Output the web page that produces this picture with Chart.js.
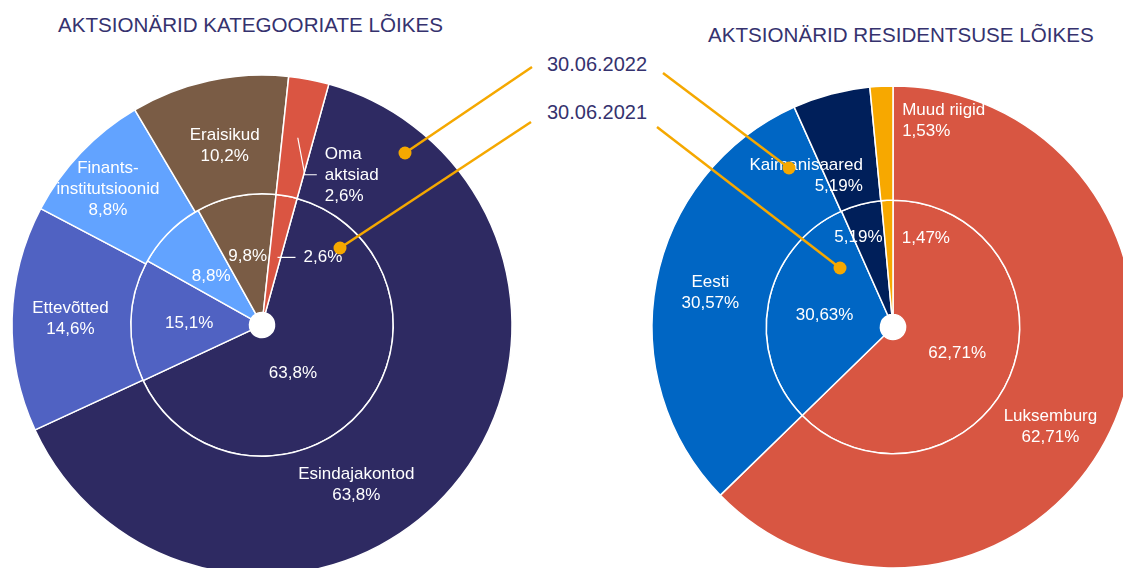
<!DOCTYPE html>
<html lang="et">
<head>
<meta charset="utf-8">
<title>Aktsionärid</title>
<script src="https://cdn.jsdelivr.net/npm/chart.js@4.4.0/dist/chart.umd.min.js"></script>
<style>
    html, body { margin: 0; padding: 0; width: 1123px; height: 568px; overflow: hidden; background: #fff; }
    .txt { position: absolute; font-family: "Liberation Sans", Arial, sans-serif; font-size: 20px; line-height: 20px; color: #35326e; white-space: nowrap; }
    .head { font-size: 20.6px; }
    canvas { position: absolute; }
</style>
</head>
<body>
<div class="txt head" style="left:58px;top:15px">AKTSIONÄRID KATEGOORIATE LÕIKES</div>
<div class="txt head" style="left:708px;top:25px">AKTSIONÄRID RESIDENTSUSE LÕIKES</div>
<div class="txt" id="period0" style="left:547px;top:54px"></div>
<div class="txt" id="period1" style="left:547px;top:102px"></div>

<canvas id="catChart" width="520" height="520" style="left:2px;top:65px"></canvas>
<canvas id="resChart" width="500" height="500" style="left:643px;top:77px"></canvas>
<canvas id="overlay" width="1123" height="568" style="left:0;top:0"></canvas>

<script>
// periods: outer ring = first, inner ring = second
const periods = ['30.06.2022', '30.06.2021'];

// shareholders by category, %
const catLabels = ['Esindajakontod', 'Ettevõtted', 'Finants-\ninstitutsioonid', 'Eraisikud', 'Oma\naktsiad'];
const cat2022 = [63.8, 14.6, 8.8, 10.2, 2.6];
const cat2021 = [63.8, 15.1, 8.8, 9.8, 2.6];
const catColors = ['#2e2a62', '#5062c2', '#62a3ff', '#7a5c45', '#da5542'];

// shareholders by residency, %
const resLabels = ['Luksemburg', 'Eesti', 'Kaimanisaared', 'Muud riigid'];
const res2022 = [62.71, 30.57, 5.19, 1.53];
const res2021 = [62.71, 30.63, 5.19, 1.47];
const resColors = ['#d85642', '#0066c4', '#001f5a', '#f7a800'];

const FONT = '17px "Liberation Sans", Arial, sans-serif';
const LINE_H = 21;
const ORANGE = '#f5a800';

document.getElementById('period0').textContent = periods[0];
document.getElementById('period1').textContent = periods[1];

const pct = (v, d) => v.toFixed(d).replace('.', ',') + '%';

// label placement relative to each arc's center point (outer ring, inner ring)
const catPlace = [
    [{ dx: -51, dy: 36 }, { dx: -1, dy: -1 }, { dx: -16, dy: -4 }, { dx: 3, dy: 7 },
     { dx: 27, dy: 38, align: 'left', leader: [[0, 0], [7, 37], [19, 37]] }],
    [{ dx: -24, dy: 2 }, { dx: -1, dy: 1 }, { dx: 0, dy: 2 }, { dx: 0, dy: 2 },
     { dx: 28, dy: 3, align: 'left', leader: [[2, 3], [20, 3]] }]
];
const resPlace = [
    [{ dx: -12, dy: 28 }, { dx: -2, dy: 0 }, { dx: 17, dy: 27, align: 'right' }, { dx: 18, dy: -23, align: 'left' }],
    [{ dx: 0, dy: -1 }, { dx: 0, dy: 1 }, { dx: -17, dy: -22 }, { dx: 12, dy: -19, align: 'left' }]
];

const sliceLabels = {
    id: 'sliceLabels',
    afterDatasetsDraw(chart, args, opts) {
        const ctx = chart.ctx;
        ctx.save();
        ctx.font = FONT;
        ctx.fillStyle = '#fff';
        ctx.strokeStyle = '#fff';
        ctx.lineWidth = 1.2;
        ctx.textBaseline = 'middle';
        chart.data.datasets.forEach((ds, di) => {
            const meta = chart.getDatasetMeta(di);
            meta.data.forEach((arc, i) => {
                const p = arc.getCenterPoint();
                const place = opts.place[di][i];
                const lines = [];
                if (di === 0) lines.push(...opts.labels[i].split('\n'));
                lines.push(pct(ds.data[i], opts.decimals));
                if (place.leader) {
                    ctx.beginPath();
                    place.leader.forEach(([x, y], k) => {
                        if (k === 0) ctx.moveTo(p.x + x, p.y + y);
                        else ctx.lineTo(p.x + x, p.y + y);
                    });
                    ctx.stroke();
                }
                ctx.textAlign = place.align || 'center';
                const x = p.x + place.dx;
                const y0 = p.y + place.dy - (lines.length - 1) * LINE_H / 2;
                lines.forEach((t, k) => ctx.fillText(t, x, y0 + k * LINE_H));
            });
        });
        ctx.restore();
    }
};

function makeRings(canvas, labels, outer, inner, colors, opts) {
    return new Chart(canvas, {
        type: 'doughnut',
        data: {
            labels: labels,
            datasets: [
                { label: periods[0], data: outer, backgroundColor: colors },
                { label: periods[1], data: inner, backgroundColor: colors }
            ]
        },
        options: {
            responsive: false,
            animation: false,
            radius: opts.radius,
            cutout: 13,
            rotation: opts.rotation,
            borderColor: '#fff',
            borderWidth: 1.5,
            hoverOffset: 0,
            layout: { padding: 0 },
            events: [],
            plugins: {
                legend: { display: false },
                tooltip: { enabled: false },
                sliceLabels: { labels: labels, place: opts.place, decimals: opts.decimals }
            }
        },
        plugins: [sliceLabels]
    });
}

makeRings(document.getElementById('catChart'), catLabels, cat2022, cat2021, catColors,
    { radius: 250, rotation: 15.5, place: catPlace, decimals: 1 });
makeRings(document.getElementById('resChart'), resLabels, res2022, res2021, resColors,
    { radius: 241, rotation: 0, place: resPlace, decimals: 2 });

// callout lines from the period labels to the rings
const callouts = [
    [[532, 67], [405, 153]],
    [[663, 73], [789, 168]],
    [[531, 122], [340, 248]],
    [[657, 127], [840, 268]]
];
const oc = document.getElementById('overlay').getContext('2d');
oc.strokeStyle = ORANGE;
oc.fillStyle = ORANGE;
oc.lineWidth = 2.5;
callouts.forEach(([a, b]) => {
    oc.beginPath();
    oc.moveTo(a[0], a[1]);
    oc.lineTo(b[0], b[1]);
    oc.stroke();
    oc.beginPath();
    oc.arc(b[0], b[1], 6.5, 0, Math.PI * 2);
    oc.fill();
});
</script>
</body>
</html>
